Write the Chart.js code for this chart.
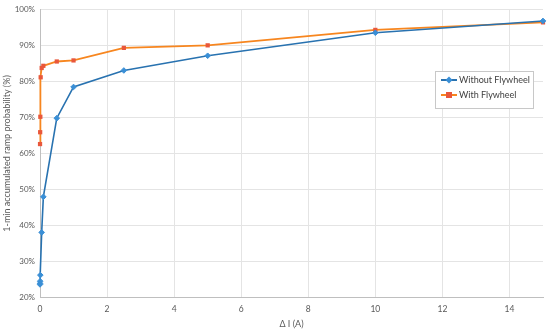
<!DOCTYPE html>
<html>
<head>
<meta charset="utf-8">
<script src="https://cdn.jsdelivr.net/npm/chart.js@4.4.0/dist/chart.umd.min.js"></script>
<style>
  html, body { margin: 0; padding: 0; background: #fff; }
  #wrap { width: 550px; height: 331px; }
</style>
</head>
<body>
<div id="wrap"><canvas id="myChart" width="550" height="331"></canvas></div>
<script>
// data
const seriesNames = ['Without Flywheel', 'With Flywheel'];
const xWithout = [0, 0.001, 0.005, 0.01, 0.05, 0.1, 0.5, 1, 2.5, 5, 10, 15];
const yWithout = [23.5, 23.8, 24.4, 26.1, 38.0, 47.9, 69.8, 78.5, 83.1, 87.2, 93.6, 96.9];
const xWith = [0.001, 0.005, 0.01, 0.02, 0.05, 0.1, 0.5, 1, 2.5, 5, 10, 15];
const yWith = [62.6, 65.9, 70.2, 81.2, 83.8, 84.4, 85.6, 85.9, 89.4, 90.1, 94.4, 96.5];
const xTicks = [0, 2, 4, 6, 8, 10, 12, 14];
const yTicks = [20, 30, 40, 50, 60, 70, 80, 90, 100];

const FONT = 'Lato, "Open Sans", sans-serif';
const blueLine = '#2872b0';
const blueMark = '#3a8fd6';
const orangeLine = '#f7861f';
const orangeMark = '#e9573b';

function pts(xs, ys) {
    return xs.map((x, i) => ({ x: x, y: ys[i] }));
}

// legend box drawn inside the plot, like the original
const boxLegend = {
    id: 'boxLegend',
    afterDraw(chart) {
        const c = chart.ctx;
        const x0 = 435, y0 = 71, w = 98, h = 37;
        c.save();
        c.fillStyle = '#fff';
        c.fillRect(x0, y0, w, h);
        c.strokeStyle = '#c8c8c8';
        c.lineWidth = 1;
        c.strokeRect(x0 + 0.5, y0 + 0.5, w, h);
        c.font = '9px ' + FONT;
        c.textBaseline = 'middle';
        const rows = [
            { y: y0 + 9, line: blueLine, mark: blueMark, style: 'star' },
            { y: y0 + 24, line: orangeLine, mark: orangeMark, style: 'rect' }
        ];
        rows.forEach((r, i) => {
            c.strokeStyle = r.line;
            c.lineWidth = 2;
            c.beginPath();
            c.moveTo(x0 + 6, r.y);
            c.lineTo(x0 + 22, r.y);
            c.stroke();
            c.fillStyle = r.mark;
            if (r.style === 'rect') {
                c.fillRect(x0 + 11, r.y - 3, 6, 6);
            } else {
                c.beginPath();
                c.moveTo(x0 + 14, r.y - 3.5);
                c.lineTo(x0 + 17.5, r.y);
                c.lineTo(x0 + 14, r.y + 3.5);
                c.lineTo(x0 + 10.5, r.y);
                c.closePath();
                c.fill();
            }
            c.fillStyle = '#404040';
            c.fillText(seriesNames[i], x0 + 24, r.y);
        });
        c.restore();
    }
};

const ctx = document.getElementById('myChart');

new Chart(ctx, {
    type: 'scatter',
    data: {
        datasets: [{
            label: seriesNames[0],
            data: pts(xWithout, yWithout),
            showLine: true,
            clip: false,
            borderColor: blueLine,
            borderWidth: 1.6,
            backgroundColor: blueMark,
            pointBorderColor: blueMark,
            pointStyle: 'rectRot',
            pointRadius: 2.8,
            pointBorderWidth: 1
        }, {
            label: seriesNames[1],
            data: pts(xWith, yWith),
            showLine: true,
            clip: false,
            borderColor: orangeLine,
            borderWidth: 1.8,
            backgroundColor: orangeMark,
            pointBorderColor: orangeMark,
            pointStyle: 'rect',
            pointRadius: 3,
            pointBorderWidth: 0
        }]
    },
    options: {
        responsive: false,
        animation: false,
        layout: {
            padding: { top: 7, right: 7, left: 0, bottom: 0 }
        },
        plugins: {
            legend: { display: false },
            tooltip: { enabled: false }
        },
        scales: {
            x: {
                type: 'linear',
                min: 0,
                max: 15,
                afterBuildTicks: s => { s.ticks = xTicks.map(v => ({ value: v })); },
                afterFit: s => { s.height = 34; },
                grid: { color: '#e4e4e4', drawTicks: false },
                border: { color: '#bfbfbf' },
                ticks: {
                    color: '#595959',
                    padding: 7,
                    maxRotation: 0,
                    font: { family: FONT, size: 8.5 }
                },
                title: {
                    display: true,
                    text: 'Δ I (A)',
                    color: '#595959',
                    padding: { top: 0, bottom: 2 },
                    font: { family: FONT, size: 9 }
                }
            },
            y: {
                min: 20,
                max: 100,
                afterBuildTicks: s => { s.ticks = yTicks.map(v => ({ value: v })); },
                afterFit: s => { s.width = 40; },
                grid: { color: '#e4e4e4', drawTicks: false },
                border: { color: '#bfbfbf' },
                ticks: {
                    color: '#595959',
                    padding: 5,
                    font: { family: FONT, size: 8 },
                    callback: v => v + '%'
                },
                title: {
                    display: true,
                    text: '1-min accumulated ramp probability (%)',
                    color: '#595959',
                    padding: { top: 2, bottom: 0 },
                    font: { family: FONT, size: 9 }
                }
            }
        }
    },
    plugins: [boxLegend]
});
</script>
</body>
</html>
